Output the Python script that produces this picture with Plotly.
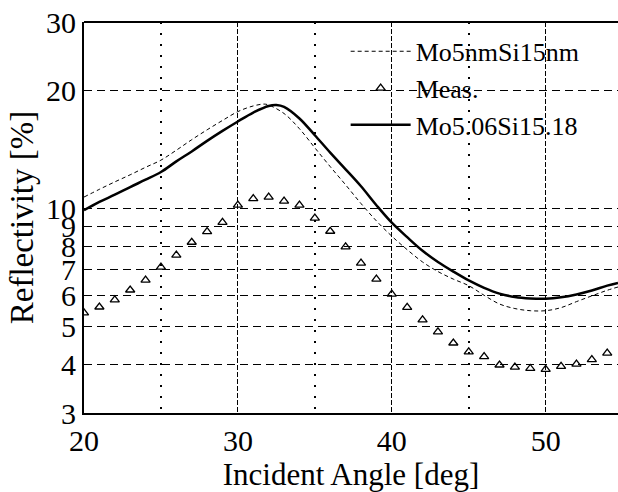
import plotly.graph_objects as go

# Measured reflectivity (triangles)
meas_x = [20, 21, 22, 23, 24, 25, 26, 27, 28, 29, 30, 31, 32, 33, 34, 35, 36, 37,
          38, 39, 40, 41, 42, 43, 44, 45, 46, 47, 48, 49, 50, 51, 52, 53, 54]
meas_y = [5.41, 5.6, 5.84, 6.19, 6.56, 7.08, 7.6, 8.2, 8.73, 9.22, 10.2, 10.6, 10.7,
          10.45, 10.2, 9.45, 8.75, 7.98, 7.25, 6.6, 6.04, 5.59, 5.19, 4.84, 4.53,
          4.3, 4.18, 3.98, 3.93, 3.90, 3.88, 3.95, 4.0, 4.11, 4.27]

# Calculated: Mo5nmSi15nm (thin dashed)
nom_x = [20, 21, 22, 23, 24, 25, 26, 27, 28, 29, 30, 31, 31.7, 32, 33, 34, 35, 36, 37,
         38, 39, 40, 41, 42, 43, 44, 45, 46, 47, 48, 49, 50, 51, 52, 53, 54, 54.7]
nom_y = [10.7, 11.2, 11.7, 12.2, 12.75, 13.3, 14.1, 15.0, 15.9, 16.8, 17.7, 18.3, 18.5,
         18.4, 17.5, 16.0, 14.3, 12.8, 11.5, 10.3, 9.3, 8.5, 7.85, 7.3, 6.9, 6.6, 6.35,
         6.0, 5.7, 5.55, 5.48, 5.48, 5.58, 5.78, 5.98, 6.18, 6.3]

# Fitted: Mo5.06Si15.18 (solid)
fit_x = [20, 21, 22, 23, 24, 25, 26, 27, 28, 29, 30, 31, 32, 32.5, 33, 34, 35, 36, 37,
         38, 39, 40, 41, 42, 43, 44, 45, 46, 47, 48, 49, 50, 51, 52, 53, 54, 54.7]
fit_y = [9.9, 10.4, 10.85, 11.35, 11.85, 12.4, 13.2, 14.0, 14.9, 15.8, 16.7, 17.6, 18.3,
         18.4, 18.2, 17.0, 15.4, 13.9, 12.6, 11.4, 10.2, 9.2, 8.45, 7.8, 7.3, 6.9, 6.55,
         6.27, 6.06, 5.94, 5.89, 5.88, 5.93, 6.03, 6.17, 6.35, 6.45]

x_ticks = [20, 30, 40, 50]
x_minor = [25, 35, 45]
y_ticks = [3, 4, 5, 6, 7, 8, 9, 10, 20, 30]

FONT = "Liberation Serif, Times New Roman, serif"

fig = go.Figure()
fig.add_trace(go.Scatter(x=nom_x, y=nom_y, mode="lines", name="Mo5nmSi15nm",
                         line=dict(color="black", width=1, dash="4px,3px", shape="spline")))
fig.add_trace(go.Scatter(x=meas_x, y=meas_y, mode="markers", name="Meas.",
                         marker=dict(symbol="triangle-up-open", size=8, color="black",
                                     line=dict(width=1.3, color="black"))))
fig.add_trace(go.Scatter(x=fit_x, y=fit_y, mode="lines", name="Mo5.06Si15.18",
                         line=dict(color="black", width=2.5, shape="spline")))

fig.update_layout(
    template="none",
    width=618, height=492,
    margin=dict(l=84, r=0, t=22, b=79),
    paper_bgcolor="white", plot_bgcolor="white",
    font=dict(family=FONT, size=30, color="black"),
    showlegend=True,
    legend=dict(x=0.49, y=0.985, xanchor="left", yanchor="top",
                bgcolor="rgba(0,0,0,0)", font=dict(family=FONT, size=26),
                itemwidth=60, tracegroupgap=0),
    xaxis=dict(
        range=[20, 54.7], tickvals=x_ticks, ticktext=[str(v) for v in x_ticks],
        showline=True, linecolor="black", linewidth=2, ticks="",
        showgrid=True, gridcolor="black", gridwidth=1.2, griddash="5px,2px",
        zeroline=False,
        minor=dict(tickvals=x_minor, showgrid=True, gridcolor="black",
                   gridwidth=1.5, griddash="2px,9px", ticks=""),
        title=dict(text="Incident Angle [deg]", font=dict(family=FONT, size=31), standoff=6),
        tickfont=dict(family=FONT, size=30),
    ),
    yaxis=dict(
        type="log", range=[0.47712, 1.47712],
        tickvals=y_ticks, ticktext=[str(v) for v in y_ticks],
        showline=True, linecolor="black", linewidth=2, ticks="",
        showgrid=True, gridcolor="black", gridwidth=1.2, griddash="8px,5px",
        zeroline=False,
        title=dict(text="Reflectivity [%]", font=dict(family=FONT, size=33), standoff=2),
        tickfont=dict(family=FONT, size=30),
    ),
)
fig.add_shape(type="line", xref="paper", yref="paper", x0=0, x1=1, y0=1, y1=1,
              line=dict(color="black", width=2))

fig.write_html("out.html")
